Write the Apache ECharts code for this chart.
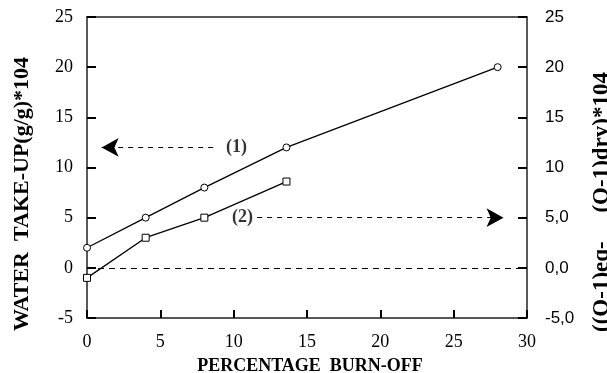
<!DOCTYPE html>
<html>
<head>
<meta charset="utf-8">
<script src="https://cdn.jsdelivr.net/npm/echarts@6/dist/echarts.min.js"></script>
<style>
html, body { margin: 0; padding: 0; background: #fff; }
#chart { width: 607px; height: 373px; }
</style>
</head>
<body>
<div id="chart"></div>
<script>
// burn-off (%) and measured values
var burnOff1 = [0, 4, 8, 13.6, 28];
var takeUp1 = [2, 5, 8, 12, 20];          // (1) water take-up
var burnOff2 = [0, 4, 8, 13.6];
var delta2 = [-1, 3, 5, 8.6];              // (2) (O-1)eq - (O-1)dry
// right axis tick labels
var rightTicks = { '25': '25', '20': '20', '15': '15', '10': '10', '5': '5,0', '0': '0,0', '-5': '-5,0' };

function pairs(xs, ys) {
    var out = [];
    for (var i = 0; i < xs.length; i++) out.push([xs[i], ys[i]]);
    return out;
}

var chart = echarts.init(document.getElementById('chart'));
var ink = '#222';
var serif = '"Liberation Serif", "Times New Roman", serif';

var option = {
    animation: false,
    backgroundColor: '#fff',
    grid: { left: 87, right: 80, top: 17, bottom: 55 },
    xAxis: [{
        type: 'value', min: 0, max: 30, interval: 5, position: 'bottom',
        splitLine: { show: false },
        axisLine: { show: true, onZero: false, lineStyle: { color: ink, width: 1.5 } },
        axisTick: { show: true, inside: true, length: 8, lineStyle: { color: 'black', width: 2 } },
        axisLabel: { color: '#000', fontFamily: serif, fontSize: 18, margin: 15 }
    }, {
        // top frame line only
        type: 'value', min: 0, max: 30, position: 'top',
        splitLine: { show: false },
        axisLine: { show: true, onZero: false, lineStyle: { color: ink, width: 1.5 } },
        axisTick: { show: false }, axisLabel: { show: false }
    }],
    yAxis: [{
        type: 'value', min: -5, max: 25, interval: 5, position: 'left',
        splitLine: { show: false },
        axisLine: { show: true, onZero: false, lineStyle: { color: ink, width: 1.5 } },
        axisTick: { show: true, inside: true, length: 9, lineStyle: { color: 'black', width: 2 } },
        axisLabel: { color: '#000', fontFamily: serif, fontSize: 18, margin: 14 }
    }, {
        type: 'value', min: -5, max: 25, interval: 5, position: 'right',
        splitLine: { show: false },
        axisLine: { show: true, onZero: false, lineStyle: { color: ink, width: 1.5 } },
        axisTick: { show: true, inside: true, length: 9, lineStyle: { color: 'black', width: 2 } },
        axisLabel: {
            color: '#000', fontFamily: '"Liberation Sans", Arial, sans-serif', fontSize: 17, margin: 18,
            formatter: function (v) { return rightTicks[String(v)]; }
        }
    }],
    series: [{
        type: 'line', data: pairs(burnOff1, takeUp1),
        symbol: 'circle', symbolSize: 7,
        itemStyle: { color: '#fff', borderColor: '#000', borderWidth: 1 },
        lineStyle: { color: '#000', width: 1.3 },
        markLine: {
            silent: true, symbol: ['none', 'none'], label: { show: false },
            lineStyle: { color: '#000', type: [6, 5], width: 1.2 },
            data: [[{ coord: [0, 0] }, { coord: [30, 0] }]]
        }
    }, {
        type: 'line', data: pairs(burnOff2, delta2),
        symbol: 'rect', symbolSize: 7,
        itemStyle: { color: '#fff', borderColor: '#000', borderWidth: 1 },
        lineStyle: { color: '#000', width: 1.3 },
        markLine: {
            silent: true, symbol: ['none', 'arrow'], symbolSize: [14, 17], label: { show: false },
            lineStyle: { color: '#000', type: [5, 5], width: 1.2 },
            data: [
                [{ coord: [8.6, 12] }, { coord: [1.0, 12] }],
                [{ coord: [11.6, 5] }, { coord: [28.4, 5] }]
            ]
        }
    }, {
        type: 'scatter', symbolSize: 0, silent: true,
        data: [[10.2, 12, '(1)'], [10.6, 5, '(2)']],
        label: {
            show: true, position: 'inside', color: '#000',
            fontFamily: serif, fontWeight: 'bold', fontSize: 18,
            formatter: function (p) { return p.data[2]; }
        }
    }],
    graphic: [{
        type: 'text', x: 22, y: 194, rotation: Math.PI / 2,
        style: {
            text: 'WATER  TAKE-UP(g/g)*104', fill: '#000',
            font: 'bold 22px ' + serif, align: 'center', verticalAlign: 'middle'
        }
    }, {
        type: 'text', x: 602, y: 202, rotation: Math.PI / 2,
        style: {
            text: '((O-1)eq-     (O-1)dry)*104', fill: '#000',
            font: 'bold 23px ' + serif, align: 'center', verticalAlign: 'middle'
        }
    }, {
        type: 'text', x: 310, y: 366,
        style: {
            text: 'PERCENTAGE  BURN-OFF', fill: '#000',
            font: 'bold 18px ' + serif, align: 'center', verticalAlign: 'middle'
        }
    }]
};

chart.setOption(option);
</script>
</body>
</html>
